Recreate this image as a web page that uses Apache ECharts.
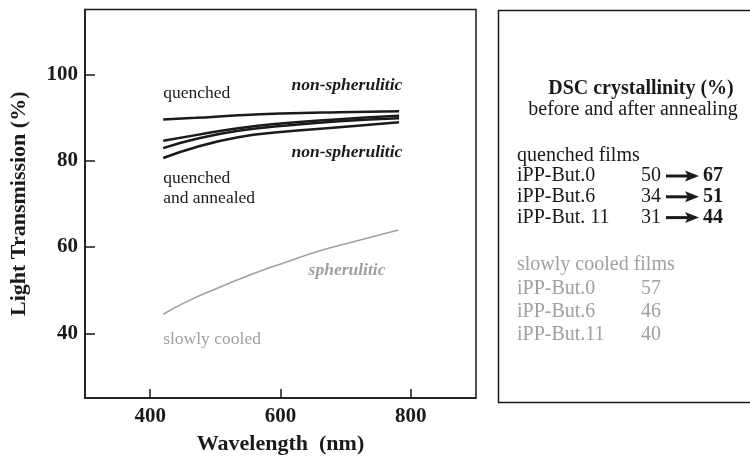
<!DOCTYPE html>
<html>
<head>
<meta charset="utf-8">
<script src="https://cdn.jsdelivr.net/npm/echarts@6/dist/echarts.min.js"></script>
<style>
  html, body { margin: 0; padding: 0; background: #fff; }
  #main { width: 750px; height: 460px; }
</style>
</head>
<body>
<div id="main"></div>
<script>
// transmission curves, [wavelength nm, transmission %]
var quenched = [[420, 89.5], [470, 89.9], [535, 90.5], [600, 90.9], [690, 91.2], [782, 91.4]];
var annealed0 = [[420, 84.6], [470, 85.9], [535, 87.5], [600, 88.6], [690, 89.6], [782, 90.4]];
var annealed6 = [[420, 82.9], [470, 85.0], [535, 86.9], [600, 88.0], [690, 89.1], [782, 89.8]];
var annealed11 = [[420, 80.6], [470, 83.1], [535, 85.4], [600, 86.6], [690, 87.7], [782, 88.9]];
var slowlyCooled = [[420, 44.4], [453, 47.1], [504, 50.5], [555, 53.6], [607, 56.4], [658, 59.0], [709, 61.1], [781, 63.9]];

var xTicks = [400, 600, 800];
var yTicks = [40, 60, 80, 100];

// DSC table
var samplesQ = ['iPP-But.0', 'iPP-But.6', 'iPP-But. 11'];
var dscBefore = [50, 34, 31];
var dscAfter = [67, 51, 44];
var samplesS = ['iPP-But.0', 'iPP-But.6', 'iPP-But.11'];
var dscSlow = [57, 46, 40];

var FONT = 'Liberation Serif';
var BLACK = '#1a1a1a';
var GREY = '#a0a0a0';

var chart = echarts.init(document.getElementById('main'));

function line(name, data, color, width) {
	return {
		name: name,
		type: 'line',
		data: data,
		smooth: true,
		symbol: 'none',
		lineStyle: { color: color, width: width },
		silent: true
	};
}

var option = {
	animation: false,
	backgroundColor: '#fff',
	grid: {
		left: 83.5, top: 9.5, right: 274, bottom: 59.5,
		show: true, borderColor: BLACK, borderWidth: 1.5
	},
	xAxis: {
		type: 'value', min: 300, max: 900,
		name: 'Wavelength  (nm)', nameLocation: 'middle', nameGap: 35,
		nameTextStyle: { fontFamily: FONT, fontSize: 22, fontWeight: 'bold', color: BLACK },
		axisLine: { show: true, lineStyle: { color: BLACK, width: 1.5 } },
		axisTick: { show: true, inside: true, length: 9, customValues: xTicks, lineStyle: { color: BLACK, width: 1.5 } },
		axisLabel: { customValues: xTicks, margin: 8, fontFamily: FONT, fontSize: 21, fontWeight: 'bold', color: BLACK },
		splitLine: { show: false }
	},
	yAxis: {
		type: 'value', min: 25, max: 115,
		name: 'Light Transmission (%)', nameLocation: 'middle', nameGap: 55,
		nameTextStyle: { fontFamily: FONT, fontSize: 22, fontWeight: 'bold', color: BLACK },
		axisLine: { show: true, lineStyle: { color: BLACK, width: 1.5 } },
		axisTick: { show: true, inside: true, length: 10, customValues: yTicks, lineStyle: { color: BLACK, width: 1.5 } },
		axisLabel: { customValues: yTicks, margin: 7, fontFamily: FONT, fontSize: 21, fontWeight: 'bold', color: BLACK },
		splitLine: { show: false }
	},
	series: [
		line('quenched', quenched, BLACK, 2.5),
		line('annealed 0', annealed0, BLACK, 2.5),
		line('annealed 6', annealed6, BLACK, 2.5),
		line('annealed 11', annealed11, BLACK, 2.5),
		line('slowly cooled', slowlyCooled, GREY, 1.6)
	]
};
chart.setOption(option);

// annotations anchored to data coords: [x, y, text, align, color, style]
var notes = [
	[420, 95.6, 'quenched', 'left', BLACK, 'normal', 'normal'],
	[787, 97.3, 'non-spherulitic', 'right', BLACK, 'italic', 'bold'],
	[787, 81.8, 'non-spherulitic', 'right', BLACK, 'italic', 'bold'],
	[420, 75.8, 'quenched', 'left', BLACK, 'normal', 'normal'],
	[420, 71.2, 'and annealed', 'left', BLACK, 'normal', 'normal'],
	[761, 54.5, 'spherulitic', 'right', GREY, 'italic', 'bold'],
	[420, 38.5, 'slowly cooled', 'left', GREY, 'normal', 'normal']
];

var g = [];
notes.forEach(function (n) {
	var p = chart.convertToPixel({ gridIndex: 0 }, [n[0], n[1]]);
	g.push({
		type: 'text', x: p[0], y: p[1], silent: true,
		style: {
			text: n[2], align: n[3], verticalAlign: 'middle', fill: n[4],
			fontFamily: FONT, fontSize: 17.5, fontStyle: n[5], fontWeight: n[6]
		}
	});
});

// right panel
g.push({
	type: 'rect', silent: true,
	shape: { x: 498.5, y: 10.5, width: 300, height: 392 },
	style: { fill: 'none', stroke: BLACK, lineWidth: 1.5 }
});
function txt(x, y, s, color, weight, align) {
	g.push({
		type: 'text', x: x, y: y, silent: true,
		style: {
			text: s, fill: color, fontFamily: FONT, fontSize: 20,
			fontWeight: weight || 'normal', align: align || 'left', verticalAlign: 'middle'
		}
	});
}
txt(641, 89, 'DSC crystallinity (%)', BLACK, 'bold', 'center');
txt(633, 110, 'before and after annealing', BLACK, 'normal', 'center');
txt(517, 156, 'quenched films', BLACK);
for (var i = 0; i < samplesQ.length; i++) {
	var yy = 176 + i * 20.8;
	txt(517, yy, samplesQ[i], BLACK);
	txt(641, yy, String(dscBefore[i]), BLACK);
	g.push({
		type: 'line', silent: true,
		shape: { x1: 666, y1: yy, x2: 690, y2: yy },
		style: { stroke: BLACK, lineWidth: 3 }
	});
	g.push({
		type: 'polygon', silent: true,
		shape: { points: [[685, yy - 5.5], [699, yy], [685, yy + 5.5], [688, yy]] },
		style: { fill: BLACK }
	});
	txt(703, yy, String(dscAfter[i]), BLACK, 'bold');
}
txt(517, 265, 'slowly cooled films', GREY);
for (var j = 0; j < samplesS.length; j++) {
	var y2 = 288.5 + j * 23.3;
	txt(517, y2, samplesS[j], GREY);
	txt(641, y2, String(dscSlow[j]), GREY);
}

chart.setOption({ graphic: g });
</script>
</body>
</html>
